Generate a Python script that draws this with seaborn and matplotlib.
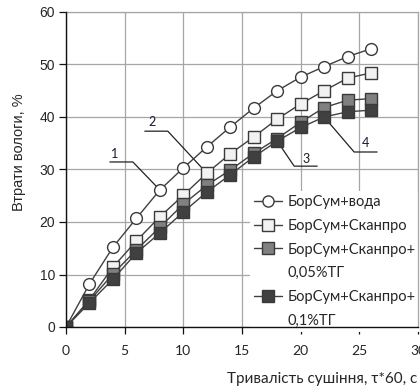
import matplotlib
matplotlib.use("Agg")
import matplotlib.pyplot as plt
from matplotlib.lines import Line2D
from matplotlib.transforms import Affine2D
import seaborn as sns
import pandas as pd

# drying time, tau*60 s
time = [0, 2, 4, 6, 8, 10, 12, 14, 16, 18, 20, 22, 24, 26]

# moisture loss, %
loss_water = [0, 8.2, 15.2, 20.7, 26.1, 30.3, 34.3, 38.1, 41.7, 45.0, 47.6, 49.6, 51.5, 53.0]
loss_scanpro = [0, 5.2, 11.4, 16.4, 21.0, 25.1, 29.3, 33.0, 36.2, 39.6, 42.5, 45.0, 47.4, 48.4]
loss_tg005 = [0, 5.0, 10.1, 14.7, 19.0, 23.4, 27.0, 29.9, 33.1, 35.9, 39.0, 41.8, 43.2, 43.5]
loss_tg01 = [0, 4.6, 9.1, 14.1, 17.9, 21.9, 25.7, 29.0, 32.4, 35.4, 38.0, 40.0, 41.0, 41.3]

labels = ["БорСум+вода", "БорСум+Сканпро",
          "БорСум+Сканпро+\n0,05%ТГ", "БорСум+Сканпро+\n0,1%ТГ"]
curve_numbers = ["1", "2", "3", "4"]

series = [loss_water, loss_scanpro, loss_tg005, loss_tg01]
markers = ["o", "s", "s", "s"]
faces = ["white", "#f2f2f2", "#808080", "#404040"]
LINE = "#404040"

df = pd.concat(
    [pd.DataFrame({"t": time, "loss": s, "series": lab}) for s, lab in zip(series, labels)],
    ignore_index=True,
)

sns.set_style("white")
plt.rcParams["font.family"] = ["Liberation Sans", "DejaVu Sans"]
CAL = ["Lato", "DejaVu Sans"]

fig = plt.figure(figsize=(4.2, 3.92), dpi=100)
ax = fig.add_axes([66 / 420, 1 - 327 / 392, (418 - 66) / 420, (327 - 12) / 392])

for lab, mk, fc in zip(labels, markers, faces):
    sub = df[df["series"] == lab]
    sns.lineplot(data=sub, x="t", y="loss", ax=ax, color=LINE, lw=1.0,
                 marker=mk, markersize=8.5 if mk == "o" else 8,
                 markerfacecolor=fc, markeredgecolor="#3a3a3a",
                 markeredgewidth=1.0, zorder=3, legend=False)

ax.set_xlim(0, 30)
ax.set_ylim(0, 60)
ax.set_xticks(range(0, 31, 5))
ax.set_yticks(range(0, 61, 10))
ax.grid(True, color="#a6a6a6", lw=0.9)
ax.set_axisbelow(True)
for side in ("top", "right"):
    ax.spines[side].set_color("#a6a6a6")
    ax.spines[side].set_linewidth(0.9)
for side in ("left", "bottom"):
    ax.spines[side].set_color("#111111")
    ax.spines[side].set_linewidth(1.0)
    ax.spines[side].set_zorder(4)
ax.tick_params(axis="both", direction="out", length=5, width=0.9, color="#111111",
               left=True, bottom=True)
ax.tick_params(axis="y", labelsize=10, pad=3)
ax.tick_params(axis="x", labelsize=10, pad=8)
for t in ax.get_xticklabels():
    t.set_family(CAL)

ax.set_xlabel("Тривалість сушіння, τ*60, с", fontsize=11, family=CAL)
ax.set_ylabel("Втрати вологи, %", fontsize=10.5)
ax.xaxis.set_label_coords(0.728, -0.143)
ax.yaxis.set_label_coords(-0.115, 0.556)

# legend rows: the marker sits on the first line of a wrapped label
leg_handles, leg_texts = [], []
for lab, mk, fc in zip(labels, markers, faces):
    lines = lab.split("\n")
    leg_handles.append(Line2D([], [], color=LINE, lw=1.0, marker=mk, markersize=8,
                              markerfacecolor=fc, markeredgecolor="#3a3a3a",
                              markeredgewidth=1.0))
    leg_texts.append(lines[0])
    for extra in lines[1:]:
        leg_handles.append(Line2D([], [], linestyle="none"))
        leg_texts.append(extra)

leg = ax.legend(leg_handles, leg_texts, loc="upper left", bbox_to_anchor=(0.523, 0.432),
                frameon=True, fancybox=False, framealpha=1, facecolor="white",
                edgecolor="none", prop={"family": CAL, "size": 10.5},
                handlelength=1.9, handletextpad=0.34, labelspacing=0.66,
                borderpad=0.3, borderaxespad=0)
leg.set_zorder(2.2)

# numbered leader lines: (series index, point index, elbow, line end, text) in pixels
leaders = [
    (0, 4, (-27, 28), (-50, 28), (-45, 36)),
    (1, 6, (-39, 42), (-62, 42), (-55, 51)),
    (3, 9, (17, -25), (40, -25), (29, -18)),
    (3, 11, (30, -35), (53, -35), (41, -26)),
]
fig.canvas.draw()
for num, (si, pi, elbow, end, tpos) in zip(curve_numbers, leaders):
    px, py = ax.transData.transform((time[pi], series[si][pi]))
    tr = Affine2D().translate(px, py)
    ax.add_line(Line2D([end[0], elbow[0], 0], [end[1], elbow[1], 0], transform=tr,
                       color="#222222", lw=0.9, zorder=2.5))
    ax.text(tpos[0], tpos[1], num, transform=tr, ha="center", va="center",
            fontsize=9, family=CAL, color="#1a1a2a", zorder=6)

fig.savefig("out.png", dpi=100)
